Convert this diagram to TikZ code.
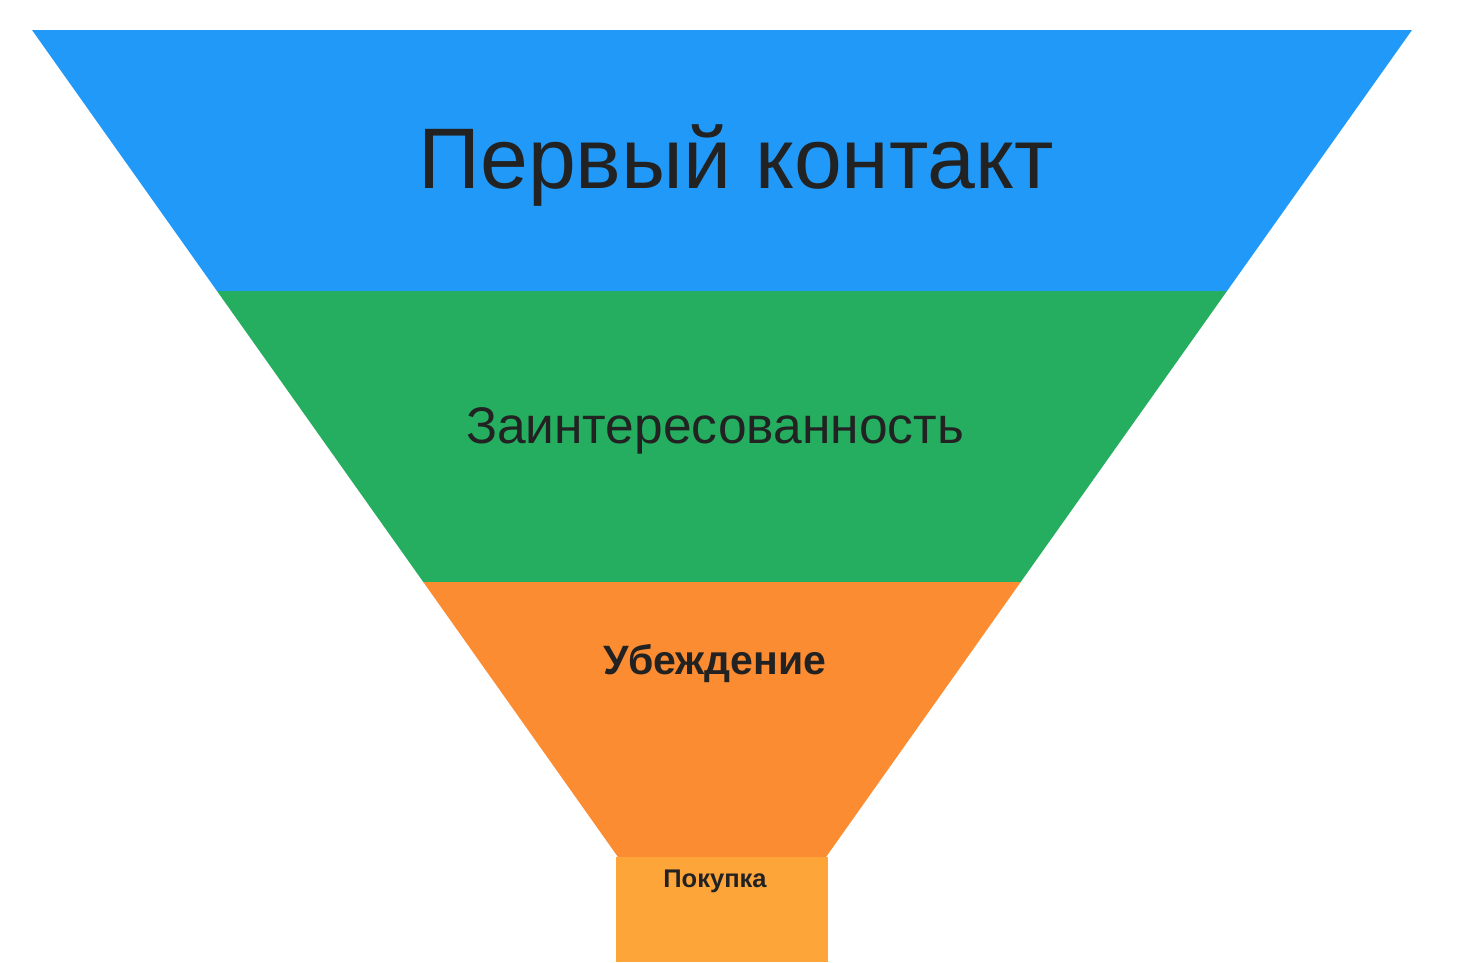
\documentclass[tikz,border=0pt]{standalone}
\usepackage{fontspec}
\setmainfont{Liberation Sans}
\definecolor{fblue}{RGB}{33,153,248}
\definecolor{fgreen}{RGB}{37,174,96}
\definecolor{forange}{RGB}{252,140,50}
\definecolor{flight}{RGB}{254,165,58}
\definecolor{ftext}{RGB}{34,34,34}
\begin{document}
\begin{tikzpicture}[x=1pt,y=-1pt,
  lbl/.style={text=ftext,inner sep=0pt,anchor=center}]
\useasboundingbox (0,0) rectangle (1458,962);
\fill[white] (0,0) rectangle (1458,962);
% funnel bands
\fill[fblue] (32,30) -- (1412,30) -- (1227,291) -- (217,291) -- cycle;
\fill[fgreen] (217,291) -- (1227,291) -- (1020.7,582) -- (423.3,582) -- cycle;
\fill[forange] (423.3,582) -- (1020.7,582) -- (826,857) -- (618,857) -- cycle;
\fill[flight] (616,857) rectangle (828,962);
% labels
\node[lbl,font=\fontsize{86}{100}\selectfont] (t1) at (736,166) {Первый контакт};
\node[lbl,font=\fontsize{51.5}{60}\selectfont] (t2) at (715,431) {Заинтересованность};
\node[lbl,font=\fontsize{41}{46}\selectfont\bfseries] (t3) at (715,664) {Убеждение};
\node[lbl,font=\fontsize{25.5}{30}\selectfont\bfseries] (t4) at (715,881) {Покупка};
\end{tikzpicture}
\end{document}
